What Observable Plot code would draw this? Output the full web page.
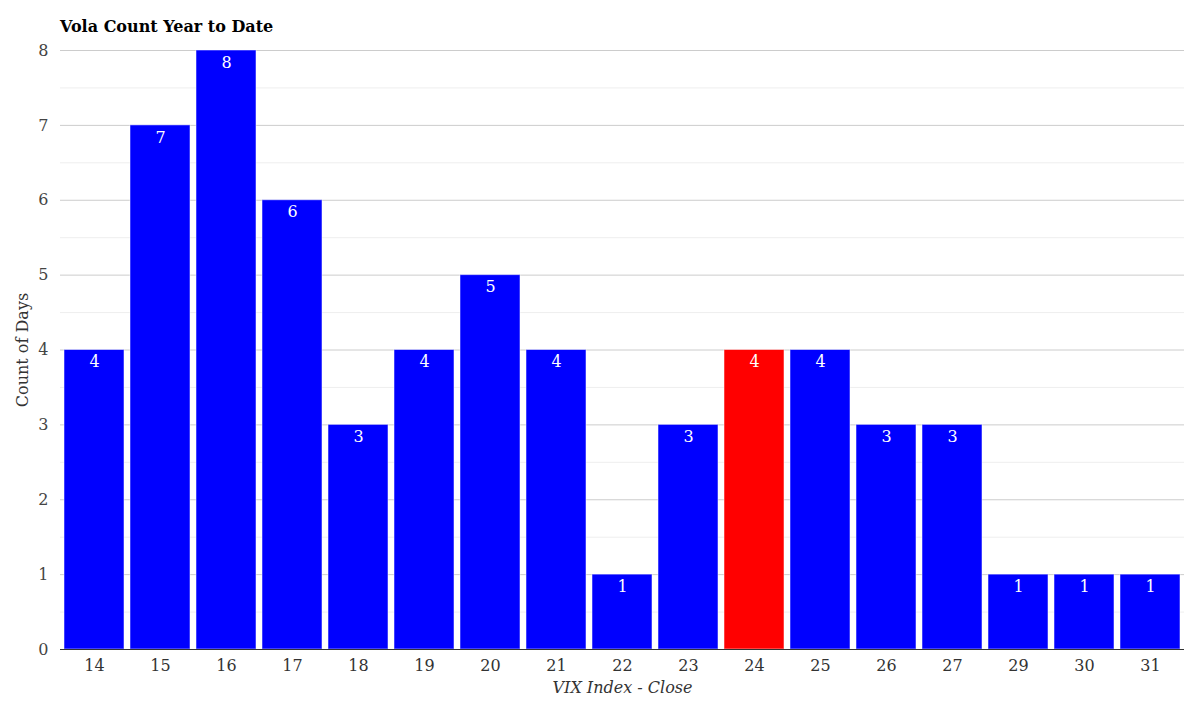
<!DOCTYPE html>
<html>
<head>
<meta charset="utf-8">
<script src="https://cdn.jsdelivr.net/npm/d3@7"></script>
<script src="https://cdn.jsdelivr.net/npm/@observablehq/plot@0.6"></script>
<style>
  html, body { margin: 0; padding: 0; background: #fff; }
  body { width: 1200px; height: 707px; overflow: hidden; font-family: "DejaVu Serif", serif; }
  #title { height: 36px; box-sizing: border-box; padding: 19px 0 0 60px; font-size: 16px; font-weight: bold; color: #000; line-height: 16px; }
  #chart svg { display: block; }
</style>
</head>
<body>
<div id="title">Vola Count Year to Date</div>
<div id="chart"></div>
<script>
const categories = ["14","15","16","17","18","19","20","21","22","23","24","25","26","27","29","30","31"];
const counts = [4,7,8,6,3,4,5,4,1,3,4,4,3,3,1,1,1];
const highlight = "24";
const yTicks = [0,1,2,3,4,5,6,7,8];
const yMinor = [0.5,1.5,2.5,3.5,4.5,5.5,6.5,7.5];

const data = categories.map((c, i) => ({vix: c, count: counts[i], hl: c === highlight}));

const chart = Plot.plot({
  width: 1200,
  height: 671,
  marginTop: 14,
  marginBottom: 58,
  marginLeft: 60,
  marginRight: 16,
  style: {fontFamily: "DejaVu Serif, serif", fontSize: "16px", background: "#fff", color: "#333"},
  x: {domain: categories, paddingInner: 0.09, paddingOuter: 0.045, label: null},
  y: {domain: [0, 8], label: null},
  marks: [
    Plot.ruleY(yMinor, {stroke: "#eeeeee", strokeWidth: 1}),
    Plot.ruleY(yTicks.filter(d => d > 0), {stroke: "#cccccc", strokeWidth: 1}),
    Plot.barY(data, {x: "vix", y: "count", fill: d => d.hl ? "#ff0000" : "#0000ff", stroke: "white", strokeOpacity: 0.5, strokeWidth: 1}),
    Plot.text(data, {x: "vix", y: "count", text: d => String(d.count), fill: "white", dy: 12, fontSize: 16}),
    Plot.ruleY([0], {stroke: "#333333", strokeWidth: 1}),
    Plot.axisY({ticks: yTicks, tickSize: 0, tickPadding: 12, tickFormat: d => String(d), fill: "#444", fontSize: 16, label: null}),
    Plot.axisX({tickSize: 0, tickPadding: 10, fill: "#333", fontSize: 16, label: null}),
    Plot.text(["VIX Index - Close"], {frameAnchor: "bottom", lineAnchor: "middle", dy: 38, fontStyle: "italic", fill: "#333", fontSize: 16}),
    Plot.text(["Count of Days"], {frameAnchor: "left", textAnchor: "middle", lineAnchor: "middle", dx: -38, rotate: -90, fill: "#333", fontSize: 16})
  ]
});
document.getElementById("chart").appendChild(chart);
</script>
</body>
</html>
